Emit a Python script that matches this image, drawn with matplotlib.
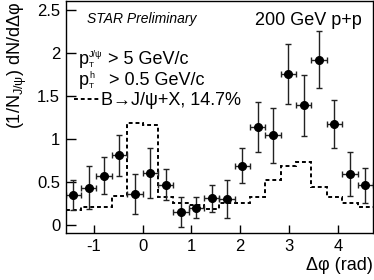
import numpy as np
import matplotlib
matplotlib.use("Agg")
import matplotlib.pyplot as plt

plt.rcParams['font.family'] = ['Liberation Sans', 'DejaVu Sans']
plt.rcParams['mathtext.fontset'] = 'custom'
plt.rcParams['mathtext.rm'] = 'Liberation Sans'
plt.rcParams['mathtext.it'] = 'Liberation Sans:italic'
plt.rcParams['mathtext.sf'] = 'Liberation Sans'

# ---- data ----
n_bins = 20
phi_lo = -np.pi / 2
phi_hi = 3 * np.pi / 2

data_y = [0.345, 0.43, 0.57, 0.81, 0.36, 0.60, 0.47, 0.155, 0.20, 0.31,
          0.30, 0.69, 1.136, 1.046, 1.76, 1.39, 1.92, 1.17, 0.59, 0.46]
data_err = [0.175, 0.25, 0.215, 0.24, 0.23, 0.29, 0.18, 0.175, 0.12, 0.16,
            0.22, 0.20, 0.29, 0.32, 0.35, 0.35, 0.33, 0.28, 0.255, 0.20]
bhist = [0.17, 0.21, 0.21, 0.34, 1.18, 1.165, 0.32, 0.26, 0.23, 0.18,
         0.26, 0.26, 0.32, 0.52, 0.69, 0.73, 0.44, 0.33, 0.25, 0.205]

xticks = [-1, 0, 1, 2, 3, 4]
xticklabels = ['-1', '0', '1', '2', '3', '4']
yticks = [0, 0.5, 1, 1.5, 2, 2.5]
yticklabels = ['0', '0.5', '1', '1.5', '2', '2.5']

edges = np.linspace(phi_lo, phi_hi, n_bins + 1)
centers = 0.5 * (edges[:-1] + edges[1:])
halfw = 0.5 * (edges[1] - edges[0])

fig = plt.figure(figsize=(3.74, 2.80), dpi=100)
ax = fig.add_axes([0.1757, 0.1668, 0.8213, 0.8282])

dash = (0, (2.0, 1.5))
ax.stairs(bhist, edges, baseline=None, color='black', lw=1.4, linestyle=dash)
ax.errorbar(centers, data_y, yerr=data_err, xerr=halfw, fmt='o', color='black',
            ms=5.5, ecolor='#222222', elinewidth=1.0, capsize=2.2, capthick=1.0)

ax.set_xlim(phi_lo, phi_hi)
ax.set_ylim(-0.097, 2.6)
ax.set_xticks(xticks)
ax.set_xticklabels(xticklabels)
ax.set_yticks(yticks)
ax.set_yticklabels(yticklabels)
ax.tick_params(direction='in', labelsize=12, length=6, width=1, pad=4)
ax.tick_params(axis='y', length=7)
for s in ax.spines.values():
    s.set_linewidth(1.0)

ax.set_ylabel('(1/N$_{\\mathregular{J/ψ}}$) dN/dΔφ', fontsize=13,
              loc='top', labelpad=6)
ax.set_xlabel('Δφ (rad)', fontsize=13, loc='right', labelpad=2)

ax.text(0.068, 0.906, 'STAR Preliminary', transform=ax.transAxes,
        fontsize=10, style='italic', va='baseline', ha='left')
ax.text(0.963, 0.898, '200 GeV p+p', transform=ax.transAxes,
        fontsize=13, va='baseline', ha='right')


def pt_line(x, y, sup, rest):
    """p with subscript T and superscript `sup`, followed by `rest`."""
    tp = ax.text(x, y, 'p', transform=ax.transAxes, fontsize=13,
                 va='baseline', ha='left')
    ax.annotate('T', xy=(1, 0), xycoords=tp, xytext=(0.4, 0.6),
                textcoords='offset points', fontsize=6, va='baseline', ha='left')
    tsup = ax.annotate(sup, xy=(1, 0), xycoords=tp, xytext=(0.4, 7.6),
                       textcoords='offset points', fontsize=6.5,
                       va='baseline', ha='left')
    ax.annotate(rest, xy=(1, 0), xycoords=(tsup, tp), xytext=(0, 0),
                textcoords='offset points', fontsize=13,
                va='bottom', ha='left')


pt_line(0.042, 0.730, 'J/ψ', ' > 5 GeV/c')
pt_line(0.042, 0.640, 'h', '   > 0.5 GeV/c')

ax.plot([0.027, 0.108], [0.578, 0.578], transform=ax.transAxes, color='black',
        lw=1.4, linestyle=dash)
ax.text(0.114, 0.553, 'B→J/ψ+X, 14.7%', transform=ax.transAxes,
        fontsize=13, va='baseline', ha='left')

fig.savefig('out.png', dpi=100)
